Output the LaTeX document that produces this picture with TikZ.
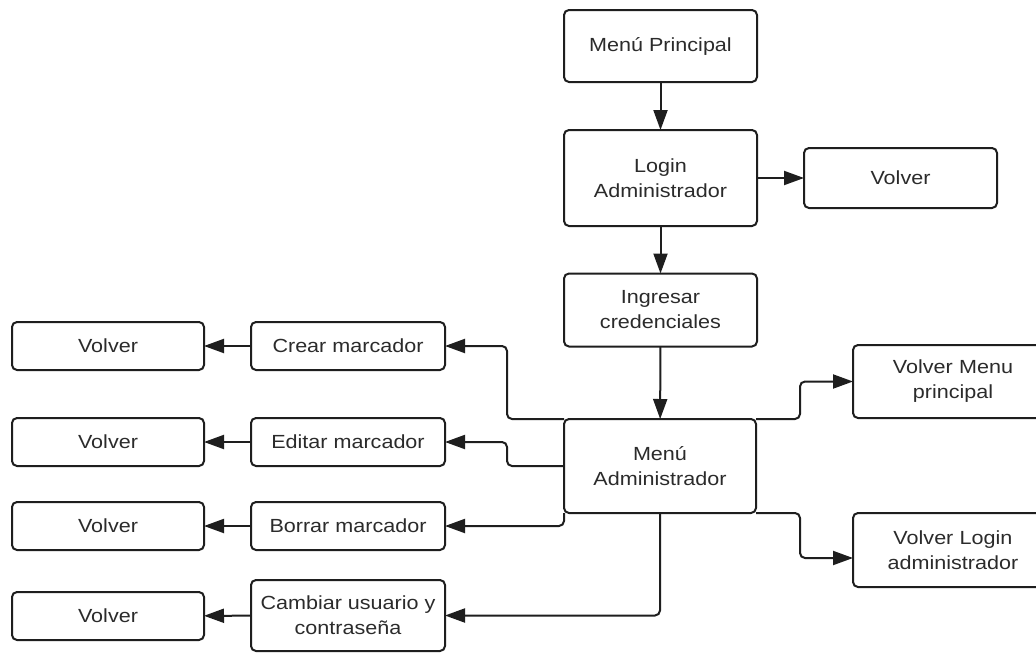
\documentclass[tikz,border=0pt]{standalone}
\usepackage{fontspec}
\setmainfont{Liberation Sans}[FakeStretch=1.135]
\usetikzlibrary{arrows.meta}
\definecolor{ink}{HTML}{1E1E1E}
\definecolor{txt}{HTML}{2B2B2B}
\tikzset{
  box/.style={draw=ink, line width=2pt, rounded corners=5pt, fill=white,
    inner sep=0pt, outer sep=0pt, align=center, text=txt,
    font=\fontsize{19}{25}\selectfont},
  link/.style={draw=ink, line width=2pt, rounded corners=5pt,
    -{Triangle[length=20pt,width=14pt]}},
}
\begin{document}
\begin{tikzpicture}[x=1pt,y=-1pt]
\useasboundingbox (0,0) rectangle (1036,653);
\clip (0,0) rectangle (1036,653);
\fill[white] (0,0) rectangle (1036,653);

% main column
\node[box, minimum width=193pt, minimum height=72pt] (mp) at (660.5,46) {Menú Principal};
\node[box, minimum width=193pt, minimum height=96pt] (login) at (660.5,178) {Login\\Administrador};
\node[box, minimum width=193pt, minimum height=60pt] (back0) at (900.5,178) {Volver};
\node[box, minimum width=193pt, minimum height=73pt] (cred) at (660.5,310) {Ingresar\\credenciales};
\node[box, minimum width=192pt, minimum height=94pt] (madm) at (660,466) {Menú\\Administrador};

% right branch (boxes run past the right edge)
\node[box, minimum width=200pt, minimum height=73pt, text width=178pt] (vmp) at (953,381.5) {Volver Menu\\principal};
\node[box, minimum width=200pt, minimum height=74pt, text width=178pt] (vla) at (953,550) {Volver Login\\administrador};

% action column
\node[box, minimum width=194pt, minimum height=48pt] (crear) at (348,346) {Crear marcador};
\node[box, minimum width=194pt, minimum height=48pt] (editar) at (348,442) {Editar marcador};
\node[box, minimum width=194pt, minimum height=48pt] (borrar) at (348,526) {Borrar marcador};
\node[box, minimum width=194pt, minimum height=71pt] (cambiar) at (348,615.5) {Cambiar usuario y\\contraseña};

% return column
\node[box, minimum width=192pt, minimum height=48pt] (v1) at (108,346) {Volver};
\node[box, minimum width=192pt, minimum height=48pt] (v2) at (108,442) {Volver};
\node[box, minimum width=192pt, minimum height=48pt] (v3) at (108,526) {Volver};
\node[box, minimum width=192pt, minimum height=48pt] (v4) at (108,616) {Volver};

% connectors
\draw[link] (mp) -- (login);
\draw[link] (login) -- (back0);
\draw[link] (login) -- (cred);
\draw[link] (cred) -- (madm);

\draw[link] (madm.north west) -- (507,419) |- (crear.east);
\draw[link] (madm.west |- 0,466) -- (507,466) |- (editar.east);
\draw[link] (madm.south west) |- (borrar.east);
\draw[link] (madm.south) |- (cambiar.east);

\draw[link] (madm.north east) -- (800,419) |- (vmp.west);
\draw[link] (madm.south east) -- (800,513) |- (vla.west |- 0,558);

\draw[link] (crear) -- (v1);
\draw[link] (editar) -- (v2);
\draw[link] (borrar) -- (v3);
\draw[link] (cambiar) -- (v4);
\end{tikzpicture}
\end{document}
